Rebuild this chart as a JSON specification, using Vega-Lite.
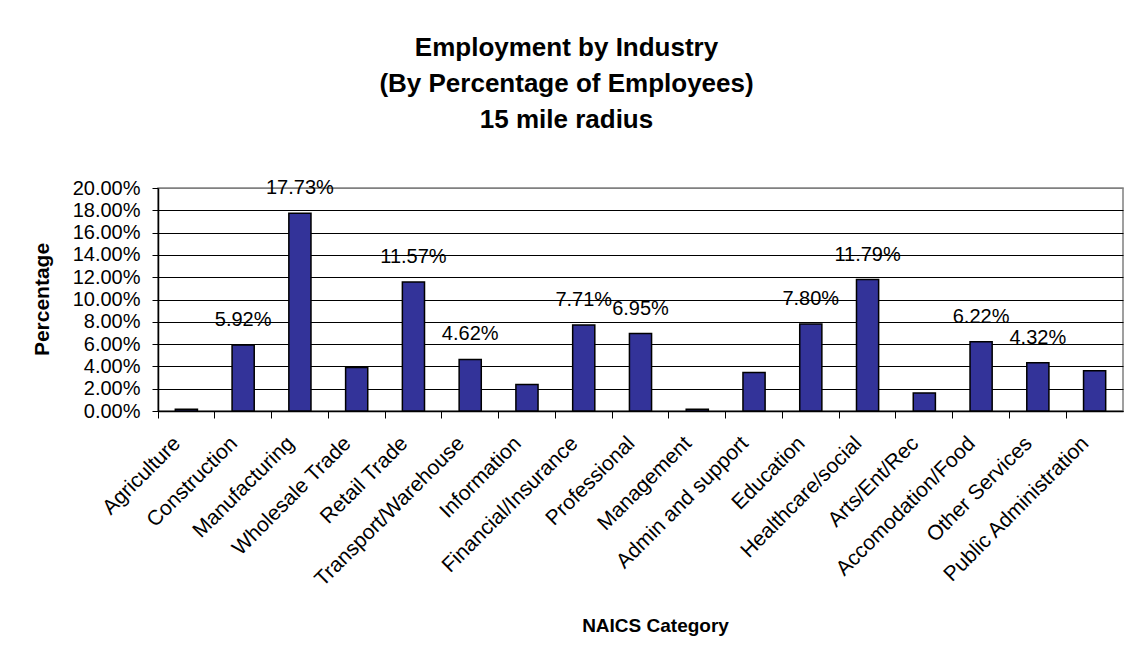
{
  "$schema": "https://vega.github.io/schema/vega-lite/v6.json",
  "width": 965,
  "height": 223,
  "autosize": {"type": "none"},
  "padding": {"left": 158, "top": 188, "right": 16, "bottom": 247},
  "background": "white",
  "config": {
    "font": "Liberation Sans",
    "view": {"stroke": "#808080", "strokeWidth": 1.5}
  },
  "title": {
    "text": ["Employment by Industry", "(By Percentage of Employees)", "15 mile radius"],
    "fontSize": 26,
    "font": "Liberation Sans",
    "fontWeight": "bold",
    "color": "black",
    "lineHeight": 36,
    "anchor": "middle",
    "dx": -74,
    "offset": 45
  },
  "data": {
    "values": [
      {"industry": "Agriculture", "pct": 0.0015, "label": null},
      {"industry": "Construction", "pct": 0.0592, "label": "5.92%"},
      {"industry": "Manufacturing", "pct": 0.1773, "label": "17.73%"},
      {"industry": "Wholesale Trade", "pct": 0.039, "label": null},
      {"industry": "Retail Trade", "pct": 0.1157, "label": "11.57%"},
      {"industry": "Transport/Warehouse", "pct": 0.0462, "label": "4.62%"},
      {"industry": "Information", "pct": 0.0237, "label": null},
      {"industry": "Financial/Insurance", "pct": 0.0771, "label": "7.71%"},
      {"industry": "Professional", "pct": 0.0695, "label": "6.95%"},
      {"industry": "Management", "pct": 0.0015, "label": null},
      {"industry": "Admin and support", "pct": 0.0345, "label": null},
      {"industry": "Education", "pct": 0.078, "label": "7.80%"},
      {"industry": "Healthcare/social", "pct": 0.1179, "label": "11.79%"},
      {"industry": "Arts/Ent/Rec", "pct": 0.0162, "label": null},
      {"industry": "Accomodation/Food", "pct": 0.0622, "label": "6.22%"},
      {"industry": "Other Services", "pct": 0.0432, "label": "4.32%"},
      {"industry": "Public Administration", "pct": 0.036, "label": null}
    ]
  },
  "encoding": {
    "x": {
      "field": "industry",
      "type": "nominal",
      "sort": null,
      "scale": {"paddingInner": 0, "paddingOuter": 0},
      "axis": {
        "title": "NAICS Category",
        "titleFont": "Liberation Sans",
        "titleFontSize": 19,
        "titleFontWeight": "bold",
        "titleColor": "black",
        "titleX": 497,
        "titleY": 214,
        "titleAlign": "center",
        "titleBaseline": "middle",
        "bandPosition": 0,
        "labelAngle": -45,
        "labelAlign": "right",
        "labelBaseline": "middle",
        "labelFont": "Liberation Sans",
        "labelFontSize": 21,
        "labelColor": "black",
        "labelOffset": -9,
        "labelPadding": 22,
        "labelLimit": 400,
        "labelOverlap": false,
        "labelBound": false,
        "tickSize": 7,
        "tickColor": "black",
        "tickWidth": 1,
        "domainColor": "black",
        "domainWidth": 1.5,
        "grid": false
      }
    },
    "y": {
      "field": "pct",
      "type": "quantitative",
      "scale": {"domain": [0, 0.2], "nice": false},
      "axis": {
        "title": "Percentage",
        "titleFont": "Liberation Sans",
        "titleFontSize": 21,
        "titleFontWeight": "bold",
        "titleColor": "black",
        "titleX": -116,
        "titleY": 111,
        "titleAngle": -90,
        "titleAlign": "center",
        "titleBaseline": "middle",
        "values": [0, 0.02, 0.04, 0.06, 0.08, 0.1, 0.12, 0.14, 0.16, 0.18, 0.2],
        "tickCount": 20,
        "format": ".2%",
        "labelFont": "Liberation Sans",
        "labelFontSize": 20,
        "labelColor": "black",
        "labelPadding": 12,
        "labelOverlap": false,
        "labelBound": false,
        "labelFlush": false,
        "tickSize": 6,
        "tickColor": "black",
        "domainColor": "black",
        "domainWidth": 1.5,
        "grid": true,
        "gridColor": {"condition": {"test": "datum.value >= 0.2", "value": "#808080"}, "value": "black"},
        "gridWidth": 1
      }
    }
  },
  "layer": [
    {
      "mark": {"type": "bar", "color": "#333399", "stroke": "black", "strokeWidth": 1.5, "width": {"band": 0.39}}
    },
    {
      "transform": [{"filter": "datum.label != null"}],
      "mark": {"type": "text", "font": "Liberation Sans", "fontSize": 20, "color": "black", "baseline": "alphabetic", "align": "center", "dy": -19},
      "encoding": {
        "text": {"field": "label"}
      }
    }
  ]
}
